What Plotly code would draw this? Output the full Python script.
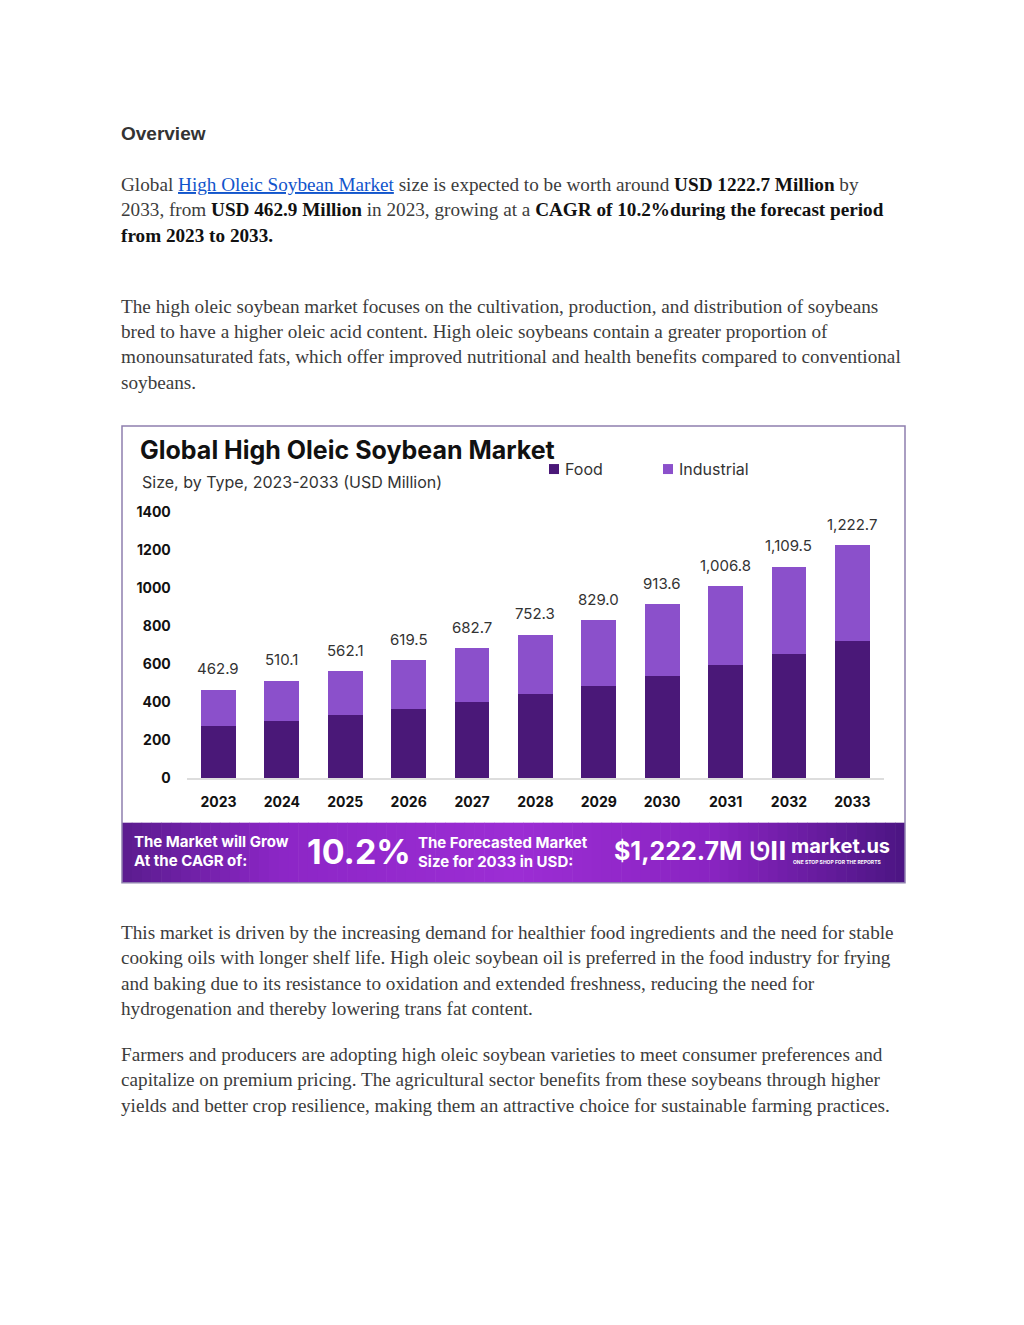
import plotly.graph_objects as go

# page is 1024x1325; the browser body adds a margin, so the figure is 1008x1309
PAGE_OFF = 8
W, H = 1008, 1309
# measured vertical placement of the figure on the page
Y_TOP, Y_SPAN = 15.5, 1293.3

years = ["2023", "2024", "2025", "2026", "2027", "2028", "2029", "2030", "2031", "2032", "2033"]
totals = [462.9, 510.1, 562.1, 619.5, 682.7, 752.3, 829.0, 913.6, 1006.8, 1109.5, 1222.7]
food = [271, 300, 329, 363, 402, 444, 486, 538, 593, 654, 721]
industrial = [round(t - f, 1) for t, f in zip(totals, food)]
total_labels = ["462.9", "510.1", "562.1", "619.5", "682.7", "752.3", "829.0", "913.6",
                "1,006.8", "1,109.5", "1,222.7"]
y_ticks = [0, 200, 400, 600, 800, 1000, 1200, 1400]

FOOD_C = "#4a1878"
IND_C = "#8b50cb"
SANS = "Inter, Lato, sans-serif"
SERIF = "Liberation Serif, Times New Roman, serif"


def px(x):
    return (x - PAGE_OFF) / W


def py(y):
    return 1 - (y - Y_TOP) / Y_SPAN


fig = go.Figure()
fig.add_trace(go.Bar(x=years, y=food, name="Food", marker=dict(color=FOOD_C, line=dict(width=0))))
fig.add_trace(go.Bar(x=years, y=industrial, name="Industrial", marker=dict(color=IND_C, line=dict(width=0))))

annotations = []
shapes = []

# value labels above bars (category index positions)
for i, (t, lab) in enumerate(zip(totals, total_labels)):
    annotations.append(dict(x=i, y=t, xref="x", yref="y", text=lab, showarrow=False,
                            yshift=21, font=dict(family=SANS, size=15, color="#333333")))


def line(text, x, y, size=19.2, color="#3c3c3c", family=SERIF):
    annotations.append(dict(x=px(x), y=py(y), xref="paper", yref="paper", text=text,
                            showarrow=False, xanchor="left", yanchor="middle",
                            font=dict(family=family, size=size, color=color)))


# ---- document text ----
line("<b>Overview</b>", 119, 132, size=19, color="#333333", family="Liberation Sans, Arial, sans-serif")
LINK = '<span style="color:#1155cc;text-decoration:underline">High Oleic Soybean Market</span>'
B = '<span style="color:#111111"><b>%s</b></span>'
line("Global " + LINK + " size is expected to be worth around " + B % "USD 1222.7 Million" + " by", 119, 183)
line("2033, from " + B % "USD 462.9 Million" + " in 2023, growing at a " + B % "CAGR of 10.2%during the forecast period", 119, 208)
line(B % "from 2023 to 2033.", 119, 234)

para2 = ["The high oleic soybean market focuses on the cultivation, production, and distribution of soybeans",
         "bred to have a higher oleic acid content. High oleic soybeans contain a greater proportion of",
         "monounsaturated fats, which offer improved nutritional and health benefits compared to conventional",
         "soybeans."]
for i, t in enumerate(para2):
    line(t, 119, 305 + i * 25.4)

para3 = ["This market is driven by the increasing demand for healthier food ingredients and the need for stable",
         "cooking oils with longer shelf life. High oleic soybean oil is preferred in the food industry for frying",
         "and baking due to its resistance to oxidation and extended freshness, reducing the need for",
         "hydrogenation and thereby lowering trans fat content."]
for i, t in enumerate(para3):
    line(t, 119, 932 + i * 25.4)

para4 = ["Farmers and producers are adopting high oleic soybean varieties to meet consumer preferences and",
         "capitalize on premium pricing. The agricultural sector benefits from these soybeans through higher",
         "yields and better crop resilience, making them an attractive choice for sustainable farming practices."]
for i, t in enumerate(para4):
    line(t, 119, 1054 + i * 25.4)

# ---- chart card ----
line("<b>Global High Oleic Soybean Market</b>", 138, 449, size=25, color="#111111", family=SANS)
line("Size, by Type, 2023-2033 (USD Million)", 140, 481, size=16, color="#333333", family=SANS)

# legend (manual)
for x0, col, name in [(549, FOOD_C, "Food"), (663, IND_C, "Industrial")]:
    shapes.append(dict(type="rect", xref="paper", yref="paper", x0=px(x0), x1=px(x0 + 10),
                       y0=py(473), y1=py(463), fillcolor=col, line=dict(width=0)))
    line(name, x0 + 14, 468, size=16, color="#333333", family=SANS)

# banner gradient strips
stops = [(0.0, (0x5a, 0x1c, 0x8e)), (0.2, (0x8c, 0x26, 0xc6)), (0.5, (0x9c, 0x2d, 0xd4)),
         (0.75, (0x8a, 0x24, 0xc2)), (1.0, (0x4b, 0x15, 0x82))]


def grad(t):
    for (t0, c0), (t1, c1) in zip(stops[:-1], stops[1:]):
        if t0 <= t <= t1:
            f = (t - t0) / (t1 - t0)
            return "rgb(%d,%d,%d)" % tuple(round(a + (b - a) * f) for a, b in zip(c0, c1))
    return "rgb(75,21,130)"


bx0, bx1, by0, by1 = 122, 905, 822, 882
n = 80
for i in range(n):
    xa = bx0 + (bx1 - bx0) * i / n
    xb = bx0 + (bx1 - bx0) * (i + 1) / n + 0.6
    shapes.append(dict(type="rect", xref="paper", yref="paper", x0=px(xa), x1=px(min(xb, bx1)),
                       y0=py(by1), y1=py(by0), fillcolor=grad((i + 0.5) / n), line=dict(width=0),
                       layer="below"))

# card border
shapes.append(dict(type="rect", xref="paper", yref="paper", x0=px(122), x1=px(905),
                   y0=py(882), y1=py(425), line=dict(color="#8e7fae", width=1.5)))

WH = "#ffffff"
line("<b>The Market will Grow</b>", 132, 841, size=15, color=WH, family=SANS)
line("<b>At the CAGR of:</b>", 132, 860, size=15, color=WH, family=SANS)
line("<b>10.2%</b>", 305, 851, size=34, color=WH, family=SANS)
line("<b>The Forecasted Market</b>", 416, 842, size=15, color=WH, family=SANS)
line("<b>Size for 2033 in USD:</b>", 416, 861, size=15, color=WH, family=SANS)
line("<b>$1,222.7M</b>", 612, 850, size=25, color=WH, family=SANS)
line("<b>ᘎll</b>", 748, 851, size=24, color=WH, family="DejaVu Sans, sans-serif")
line("<b>market.us</b>", 789, 845, size=20, color=WH, family=SANS)
line("<b>ONE STOP SHOP FOR THE REPORTS</b>", 791, 861, size=5, color=WH, family=SANS)

fig.update_layout(
    width=W, height=H,
    margin=dict(l=0, r=0, t=0, b=0, pad=0),
    paper_bgcolor="white", plot_bgcolor="white",
    barmode="stack", bargap=0.45,
    showlegend=False,
    annotations=annotations, shapes=shapes,
    xaxis=dict(domain=[px(186.8), px(884)], type="category", range=[-0.5, 10.5],
               showgrid=False, zeroline=False, showline=True, linecolor="#dddddd", linewidth=1.5,
               ticks="", ticklabelstandoff=10,
               tickfont=dict(family=SANS, size=14, color="#111111", weight="bold")),
    yaxis=dict(domain=[py(777.3), py(510.6)], range=[0, 1400], tickvals=y_ticks,
               showgrid=False, zeroline=False, showline=False, ticks="", ticklabelstandoff=15,
               tickfont=dict(family=SANS, size=14, color="#111111", weight="bold")),
)

fig.write_html("out.html")
